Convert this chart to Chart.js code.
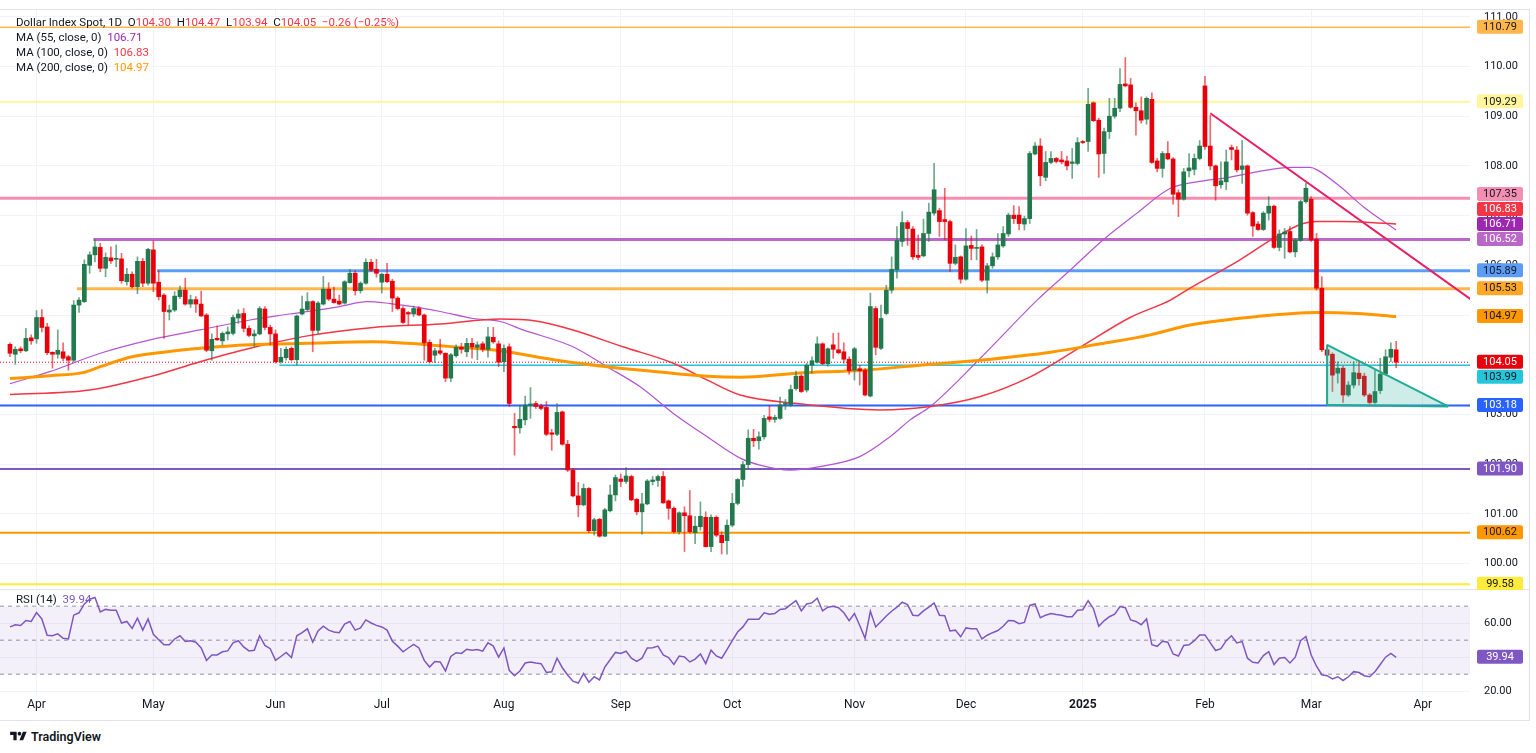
<!DOCTYPE html>
<html>
<head>
<meta charset="utf-8">
<script src="https://cdn.jsdelivr.net/npm/chart.js@4.4.1/dist/chart.umd.min.js"></script>
<style>
  html, body { margin: 0; padding: 0; background: #fff; width: 1536px; height: 753px; overflow: hidden;
    font-family: Roboto, "Liberation Sans", sans-serif; color: #131722; }
  #mainBox { position: absolute; left: 0; top: 0; width: 1536px; height: 590px; }
  #rsiBox { position: absolute; left: 0; top: 590px; width: 1536px; height: 128px; }
  .legend { position: absolute; left: 16px; top: 15px; font-size: 11.5px; line-height: 15px; white-space: pre; }
  .rsiLegend { position: absolute; left: 16px; top: 592px; font-size: 11.5px; line-height: 15px; white-space: pre; }
  .hline { position: absolute; left: 0; width: 1530px; height: 1px; background: #e0e3eb; }
  .vline { position: absolute; top: 10px; width: 1px; height: 710px; background: #e0e3eb; }
  .logo { position: absolute; left: 10px; top: 729px; display: flex; align-items: center; gap: 4px;
    font-size: 12.5px; font-weight: 600; }
</style>
</head>
<body>
<div class="hline" style="top:9px"></div>
<div class="hline" style="top:589px"></div>
<div class="hline" style="top:720px"></div>
<div class="vline" style="left:1529px"></div>
<div id="mainBox"><canvas id="mainChart"></canvas></div>
<div id="rsiBox"><canvas id="rsiChart"></canvas></div>
<div class="legend">Dollar Index Spot, 1D  O<span style="color:#f23645">104.30</span>  H<span style="color:#f23645">104.47</span>  L<span style="color:#f23645">103.94</span>  C<span style="color:#f23645">104.05</span>  <span style="color:#f23645">−0.26 (−0.25%)</span>
MA (55, close, 0)  <span style="color:#9c27b0">106.71</span>
MA (100, close, 0)  <span style="color:#f23645">106.83</span>
MA (200, close, 0)  <span style="color:#ff9800">104.97</span></div>
<div class="rsiLegend">RSI (14)  <span style="color:#7e57c2">39.94</span></div>
<div class="logo">
  <svg width="17" height="13" viewBox="0 0 36 28"><path d="M14 22H7V11H0V4h14v18zM28 22h-8l7.5-18h8L28 22z" fill="#131722"/><circle cx="20" cy="8" r="4" fill="#131722"/></svg>
  <span>TradingView</span>
</div>
<script>
// daily bars, 25 Mar 2024 .. 25 Mar 2025 (bar index 0..261)
const opens = [
104.41,104.21,104.32,104.28,104.54,104.52,104.95,104.76,104.25,104.21,
104.26,104.16,104.09,105.20,105.27,106.00,106.21,106.36,105.94,106.15,
106.12,106.13,105.67,105.82,105.57,106.08,105.64,106.31,105.66,105.40,
105.06,105.10,105.37,105.50,105.22,105.31,105.22,105.00,104.28,104.53,
104.48,104.62,104.63,104.94,105.03,104.73,104.58,104.62,105.12,104.75,
104.62,104.06,104.14,104.33,104.10,105.02,105.11,105.27,104.69,105.22,
105.52,105.32,105.28,105.24,105.65,105.84,105.49,105.64,106.06,105.92,
105.66,105.82,105.68,105.34,105.13,105.05,105.02,105.13,105.00,104.45,
104.19,104.28,104.23,103.73,104.18,104.35,104.26,104.43,104.35,104.42,
104.31,104.55,104.42,104.06,104.36,102.76,102.73,102.89,103.19,103.22,
103.17,103.14,102.63,102.60,103.05,102.40,101.88,101.36,101.18,101.51,
100.66,100.89,100.55,101.06,101.38,101.70,101.65,101.75,101.29,101.04,
101.20,101.65,101.67,101.75,101.26,101.11,100.64,101.02,100.96,100.62,
100.74,100.93,100.34,100.93,100.57,100.46,100.77,101.21,101.69,101.99,
102.52,102.47,102.55,102.95,102.90,102.92,103.20,103.19,103.52,103.77,
103.49,103.99,104.05,104.42,104.02,104.40,104.30,104.26,104.11,103.89,
103.92,103.89,103.37,105.13,104.33,105.03,105.50,105.91,106.48,106.86,
106.73,106.20,106.19,106.64,107.05,107.10,106.92,106.88,106.04,106.17,
105.72,106.40,106.34,106.37,105.70,105.99,106.17,106.39,106.63,107.01,
107.01,106.83,106.94,108.24,108.40,107.77,108.07,108.15,108.12,108.10,
108.05,108.05,108.49,108.49,109.27,108.92,108.25,108.69,109.00,109.16,
109.65,109.63,109.18,109.11,108.94,109.34,108.10,107.95,108.25,108.14,
107.46,107.33,107.90,107.93,108.15,109.61,108.40,108.00,107.62,107.68,
108.37,108.32,107.93,108.00,107.06,106.83,106.72,107.05,107.19,106.36,
106.63,106.68,106.27,106.50,107.28,107.33,106.52,105.54,104.30,104.21,
103.83,103.93,103.39,103.59,103.83,103.77,103.39,103.24,103.48,103.81,
104.15,104.30];
const highs = [
104.44,104.36,104.36,104.73,104.60,105.09,105.11,104.83,104.26,104.70,
104.44,104.19,105.29,105.35,106.11,106.27,106.52,106.44,106.25,106.37,
106.41,106.24,105.94,105.87,106.17,106.14,106.34,106.49,105.89,105.43,
105.20,105.47,105.58,105.74,105.40,105.37,105.48,105.03,104.62,104.78,
104.66,104.76,105.00,105.11,105.13,104.78,104.70,105.17,105.17,104.80,
104.70,104.33,104.36,104.36,105.00,105.38,105.45,105.29,105.27,105.78,
105.65,105.56,105.40,105.69,105.92,105.89,105.67,106.13,106.12,106.12,
105.84,106.04,105.72,105.37,105.17,105.07,105.18,105.17,105.02,104.50,
104.33,104.51,104.24,104.23,104.40,104.43,104.53,104.53,104.46,104.46,
104.75,104.75,104.48,104.40,104.42,103.02,103.19,103.37,103.54,103.26,
103.21,103.26,102.70,103.22,103.07,102.48,101.91,101.63,101.60,101.53,
100.91,100.91,101.11,101.58,101.78,101.80,101.93,101.78,101.31,101.41,
101.69,101.75,101.78,101.85,101.28,101.14,101.04,101.14,101.47,100.95,
101.24,101.04,100.98,100.96,100.64,100.88,101.41,101.71,102.05,102.69,
102.70,102.65,102.98,103.17,102.98,103.35,103.30,103.59,103.87,103.80,
104.03,104.16,104.56,104.44,104.34,104.63,104.64,104.44,104.16,104.35,
103.99,103.92,105.44,105.17,105.20,105.60,106.17,106.78,107.08,106.90,
106.78,106.61,106.93,107.25,108.05,107.15,107.55,106.91,106.41,106.19,
106.74,106.59,106.72,106.41,106.04,106.25,106.64,106.78,107.05,107.20,
107.18,106.99,108.29,108.47,108.55,108.29,108.29,108.17,108.29,108.20,
108.35,108.57,108.51,109.56,109.29,108.96,108.76,109.36,109.36,109.96,
110.18,109.76,109.27,109.39,109.39,109.47,108.15,108.29,108.49,108.17,
107.52,107.95,108.25,108.24,108.51,109.80,109.02,108.02,108.08,108.32,
108.42,108.39,108.51,108.02,107.08,106.88,107.08,107.38,107.21,106.71,
106.74,106.78,106.54,107.31,107.65,107.38,106.64,105.77,104.40,104.24,
104.06,103.97,103.66,104.06,104.09,103.83,103.42,103.89,104.13,104.30,
104.44,104.47];
const lows = [
104.16,104.01,104.24,104.26,104.41,104.43,104.66,104.20,103.93,104.13,
104.08,103.89,104.06,105.05,105.25,105.84,106.07,105.87,105.77,106.04,
105.97,105.64,105.60,105.54,105.43,105.57,105.60,105.47,105.30,104.53,
104.90,105.07,105.33,105.20,105.15,105.05,104.97,104.26,104.09,104.49,
104.40,104.50,104.60,104.83,104.66,104.56,104.36,104.60,104.70,104.40,
104.03,104.03,104.09,104.08,103.99,105.00,105.09,104.26,104.63,105.20,
105.29,105.24,105.20,105.22,105.64,105.40,105.44,105.62,105.87,105.76,
105.44,105.65,105.07,105.10,104.83,104.80,104.97,104.98,104.09,104.03,
104.04,104.20,103.66,103.66,104.15,104.23,104.16,104.13,104.10,104.26,
104.15,104.43,103.96,103.86,103.16,102.18,102.62,102.79,102.92,103.12,
103.09,102.57,102.28,102.57,102.38,101.85,101.34,100.94,101.16,100.62,
100.57,100.53,100.54,101.04,101.26,101.55,101.61,101.26,100.98,100.59,
101.18,101.58,101.55,101.21,100.89,100.61,100.59,100.24,100.61,100.40,
100.67,100.33,100.24,100.54,100.19,100.19,100.74,101.18,101.55,101.90,
102.35,102.30,102.50,102.85,102.84,102.90,103.10,103.16,103.49,103.44,
103.45,103.83,104.03,104.00,103.97,104.13,104.22,104.03,103.81,103.69,
103.59,103.37,103.35,104.20,104.30,105.00,105.44,105.74,106.38,106.40,
106.12,106.11,106.17,106.48,107.01,106.58,106.51,105.87,106.01,105.64,
105.70,106.11,106.11,105.67,105.44,105.94,106.12,106.36,106.58,106.84,
106.71,106.71,106.84,108.22,107.60,107.70,108.04,108.06,108.04,107.92,
107.75,108.02,108.45,108.29,108.89,107.77,107.85,108.55,108.96,109.09,
109.59,109.16,108.62,108.86,108.84,108.05,107.88,107.77,108.12,107.23,
106.98,107.31,107.78,107.82,108.12,108.33,107.92,107.31,107.55,107.52,
108.12,107.88,107.65,107.01,106.58,106.70,106.70,106.91,106.34,106.29,
106.14,106.25,106.17,106.48,107.25,106.48,105.50,104.26,103.22,103.46,
103.63,103.24,103.36,103.53,103.59,103.36,103.21,103.22,103.42,103.79,
104.06,103.94];
const closes = [
104.23,104.31,104.28,104.53,104.48,104.95,104.75,104.24,104.21,104.29,
104.13,104.09,105.20,105.30,106.02,106.21,106.37,105.94,106.16,106.09,
106.13,105.69,105.82,105.57,106.08,105.64,106.32,105.64,105.37,105.07,
105.10,105.38,105.50,105.22,105.31,105.22,104.98,104.29,104.51,104.50,
104.63,104.66,104.95,105.02,104.73,104.59,104.62,105.13,104.75,104.62,
104.06,104.15,104.31,104.10,104.98,105.12,105.27,104.69,105.24,105.52,
105.32,105.25,105.22,105.67,105.84,105.49,105.64,106.06,105.90,105.84,
105.82,105.67,105.34,105.13,104.85,105.02,105.13,105.00,104.44,104.06,
104.28,104.23,103.73,104.20,104.35,104.31,104.43,104.36,104.40,104.31,
104.56,104.46,104.05,104.33,103.22,102.73,102.90,103.19,103.21,103.16,
103.12,102.60,102.60,103.04,102.40,101.88,101.36,101.18,101.51,100.66,
100.88,100.55,101.08,101.38,101.73,101.65,101.76,101.28,101.04,101.20,
101.66,101.68,101.75,101.22,101.11,100.64,101.02,100.96,100.64,100.75,
100.95,100.34,100.93,100.57,100.42,100.77,101.21,101.69,101.99,102.52,
102.47,102.55,102.92,102.90,102.94,103.19,103.22,103.50,103.77,103.46,
103.99,104.08,104.42,104.02,104.32,104.31,104.24,104.11,103.88,104.32,
103.88,103.39,105.17,104.35,104.93,105.50,105.92,106.50,106.86,106.74,
106.17,106.16,106.64,107.07,107.52,106.88,106.88,106.04,106.16,105.72,
106.39,106.34,106.36,105.70,105.99,106.17,106.41,106.64,107.01,106.94,
106.84,106.94,108.25,108.40,107.80,108.07,108.15,108.09,108.08,108.00,
108.08,108.47,108.47,109.24,108.91,108.24,108.69,109.00,109.16,109.64,
109.61,109.18,109.11,108.92,109.36,108.07,107.95,108.25,108.14,107.43,
107.33,107.88,107.96,108.15,108.40,108.39,108.00,107.60,107.70,108.08,
108.33,107.92,108.00,107.05,106.79,106.72,107.05,107.19,106.36,106.63,
106.67,106.27,106.51,107.28,107.55,106.51,105.54,104.30,104.19,103.79,
103.93,103.39,103.59,103.84,103.72,103.39,103.24,103.46,103.81,104.16,
104.31,104.05];

// moving averages: [bar index, value]
const ma55 = [[0,103.62],[7.5,103.86],[17,104.23],[26.4,104.50],[35.8,104.70],[45.2,104.90],[52.7,105.02],
  [62.1,105.17],[67.2,105.27],[71.6,105.23],[75.9,105.17],[81,105.07],[87.2,104.93],[92.3,104.87],[96.6,104.70],
  [106,104.36],[112.4,103.96],[118.6,103.56],[124.9,103.02],[131.3,102.55],[137.5,102.12],[141.2,101.98],
  [146.9,101.88],[152.5,101.95],[160,102.15],[165.7,102.55],[169.5,102.89],[173.3,103.16],[182.7,104.13],
  [193.4,105.30],[199.6,105.90],[205.8,106.51],[212.2,107.05],[218.5,107.55],[224.7,107.70],[228.4,107.75],
  [234.8,107.88],[241.1,107.97],[244.8,107.97],[246.1,107.92],[250.5,107.58],[254.8,107.18],[261,106.71]];
const ma100 = [[0,103.40],[15,103.49],[26.4,103.76],[35.8,104.06],[45.2,104.33],[56,104.58],[68.4,104.75],
  [81,104.82],[92.3,104.92],[99,104.88],[106,104.70],[115.4,104.36],[124.9,104.03],[131.3,103.69],[137.5,103.39],
  [148.2,103.22],[163.8,103.09],[173.3,103.16],[182.7,103.36],[192,103.75],[201.5,104.35],[210.9,104.95],
  [218.5,105.30],[222.2,105.54],[231.6,106.11],[237.9,106.54],[243.5,106.84],[246.1,106.88],[250.5,106.88],[261,106.83]];
const ma200 = [[0,103.72],[7.5,103.78],[13.7,103.84],[17,103.96],[23,104.16],[29.6,104.26],[35.8,104.33],
  [45.2,104.40],[56,104.43],[68.4,104.46],[74.8,104.43],[81,104.38],[87.2,104.33],[92.3,104.28],[103,104.09],
  [112.4,103.96],[121.8,103.86],[131.3,103.77],[137.5,103.75],[148.2,103.83],[160.6,103.89],[173.3,104.01],
  [182.7,104.09],[195.9,104.25],[205.3,104.42],[214.7,104.60],[222.2,104.80],[234.8,104.97],[246,105.05],
  [253.7,105.03],[261,104.97]];

const rsi14 = [
57.8,59.1,58.6,61.6,61.0,66.2,62.5,52.9,52.6,53.7,
51.1,50.7,64.7,66.1,71.3,74.1,75.1,66.6,68.1,67.6,
67.6,60.1,61.0,56.9,62.9,55.9,62.5,53.5,50.3,47.3,
47.3,50.7,52.6,49.2,49.7,48.8,45.4,38.1,41.3,41.3,
43.2,43.7,48.4,49.7,46.0,43.7,44.1,52.6,46.9,45.0,
38.1,40.4,42.8,39.8,52.6,54.4,56.7,48.8,55.4,58.2,
55.9,54.8,54.4,59.5,61.0,55.9,57.2,61.9,60.1,58.7,
57.8,55.9,49.4,46.5,43.2,45.4,47.5,45.4,38.1,34.2,
37.5,37.2,31.9,40.4,42.6,42.2,44.7,44.1,44.5,43.5,
48.4,46.5,40.0,45.4,32.3,29.1,31.9,36.6,37.2,36.6,
36.2,31.0,31.4,39.4,33.8,29.5,25.9,24.8,30.4,25.3,
28.5,26.7,34.2,38.5,42.8,42.2,43.5,39.4,37.5,39.4,
45.4,45.6,46.5,41.3,39.8,35.7,40.7,40.2,37.2,38.9,
41.9,36.2,44.1,40.7,39.4,44.5,49.7,54.8,57.8,62.3,
62.3,62.3,66.1,65.3,65.7,68.1,68.5,70.9,73.2,67.2,
71.3,71.9,74.7,67.2,69.4,70.0,69.1,66.1,61.4,65.7,
58.6,51.1,67.0,57.8,61.0,64.2,67.0,69.4,72.3,70.9,
64.7,64.4,67.2,69.4,71.9,64.7,64.4,55.4,55.9,52.0,
57.2,56.7,56.7,50.7,52.9,54.4,55.7,58.2,61.6,61.4,
59.7,60.4,70.4,71.3,63.2,64.7,65.7,65.1,64.7,63.8,
63.8,67.6,67.9,73.2,68.5,58.2,61.4,63.8,65.3,69.8,
69.1,61.9,61.0,59.1,62.5,47.3,46.4,49.4,48.8,41.9,
40.7,46.9,47.3,49.7,53.1,53.1,48.4,43.9,45.0,49.7,
52.6,48.4,49.2,39.4,37.0,36.6,40.9,43.2,35.7,39.4,
39.8,36.6,40.0,49.7,52.2,41.3,34.7,29.7,29.1,27.2,
28.5,26.3,28.5,31.5,31.0,29.1,28.5,31.4,35.7,40.0,
42.2,39.94];

const monthIdx = [5, 27, 50, 70, 93, 115, 136, 159, 180, 202, 225, 245, 266];
const monthLabels = ['Apr','May','Jun','Jul','Aug','Sep','Oct','Nov','Dec','2025','Feb','Mar','Apr'];
const priceTicks = [100,101,102,103,104,105,106,107,108,109,110,111];
const rsiTicks = [20, 40, 60];

// horizontal levels drawn on the chart, and the bar where each one starts (null = whole width)
const levels    = [110.79, 109.29, 107.35, 106.52, 105.89, 105.53, 103.99, 103.18, 101.90, 100.62, 99.58];
const levelFrom = [null,   null,   null,   15.7,   27.7,   12.6,   50.7,   null,   null,   null,   null];
const lastPrice = 104.05;
const lastRsi = 39.94;
const trendLine = [[226, 109.06], [275, 105.32]];
const triangleTop = [[248, 104.40], [270.8, 103.16]];
const triangleBase = [[248, 103.19], [270.8, 103.16]];
</script>
<script>
Chart.defaults.font.family = 'Roboto, "Liberation Sans", sans-serif';
Chart.defaults.font.size = 11;
Chart.defaults.color = '#131722';

const X_MIN = -1.88, X_MAX = 274.9;
const UP = '#22794d', DOWN = '#e8000b';
const GRID = '#f0f3fa';
const TAG_H = 15;

const levelStyles = [
  { color: '#ffb74d', width: 1.5, bg: '#ffb74d', fg: '#131722' },
  { color: '#fff59d', width: 2,   bg: '#fff59d', fg: '#131722' },
  { color: '#f48fb1', width: 3,   bg: '#f48fb1', fg: '#131722' },
  { color: '#ba68c8', width: 3,   bg: '#ba68c8', fg: '#ffffff' },
  { color: '#5b9cf6', width: 3,   bg: '#5b9cf6', fg: '#131722' },
  { color: '#ffb74d', width: 3,   bg: '#ffa726', fg: '#131722' },
  { color: '#26c6da', width: 1.5, bg: '#26c6da', fg: '#131722' },
  { color: '#2962ff', width: 2,   bg: '#2962ff', fg: '#ffffff' },
  { color: '#7e57c2', width: 2,   bg: '#7e57c2', fg: '#ffffff' },
  { color: '#ff9800', width: 2,   bg: '#ff9800', fg: '#131722' },
  { color: '#ffeb3b', width: 2,   bg: '#ffeb3b', fg: '#131722' }
];

const pts = arr => arr.map(([x, y]) => ({ x, y }));
const isUp = closes.map((c, i) => c >= opens[i]);

// price tags on the right axis, pushed apart like TradingView does
const tagPlugin = {
  id: 'tags',
  afterDraw(chart, args, opts) {
    const sc = chart.scales.y, ctx = chart.ctx, area = chart.chartArea;
    const items = opts.tags.map(t => ({ ...t, y: sc.getPixelForValue(t.v) }));
    items.sort((a, b) => b.y - a.y);
    let prev = null;
    for (const it of items) {
      let y = it.y;
      if (prev) {
        if (it.fixed) { if (prev.py - y < TAG_H) prev.py = y + TAG_H; }
        else y = Math.min(y, prev.py - TAG_H);
      }
      it.py = y;
      prev = it;
    }
    ctx.save();
    ctx.font = '11px Roboto, "Liberation Sans", sans-serif';
    ctx.textAlign = 'center';
    ctx.textBaseline = 'middle';
    for (const it of items) {
      ctx.fillStyle = it.bg;
      ctx.beginPath();
      ctx.roundRect(area.right + 7, it.py - TAG_H / 2, 46, TAG_H - 1, 2);
      ctx.fill();
      ctx.fillStyle = it.fg;
      ctx.fillText(it.v.toFixed(2), area.right + 30, it.py);
    }
    ctx.restore();
  }
};

const xScale = (showLabels) => ({
  type: 'linear', min: X_MIN, max: X_MAX, offset: false,
  afterBuildTicks: s => { s.ticks = monthIdx.map(v => ({ value: v })); },
  afterFit: s => { s.paddingLeft = 0; s.paddingRight = 0; },
  ticks: {
    display: showLabels, autoSkip: false, maxRotation: 0, padding: 3,
    font: c => ({ size: 12, weight: (c.tick && c.tick.value === 202) ? 'bold' : 'normal' }),
    callback: v => { const k = monthIdx.indexOf(v); return k >= 0 ? monthLabels[k] : ''; }
  },
  grid: { color: GRID, drawTicks: false, offset: false },
  border: { display: false }
});

// tick padding would otherwise be added above and below the plot area
const yScale = (min, max, ticks) => ({
  position: 'right', min, max,
  afterBuildTicks: s => { s.ticks = ticks.map(v => ({ value: v })); },
  afterFit: s => { s.width = 66; s.paddingTop = 0; s.paddingBottom = 0; },
  ticks: { padding: 14, callback: v => v.toFixed(2), color: '#131722' },
  grid: { color: GRID, drawTicks: false },
  border: { display: false }
});

// ---- main price pane ----
const datasets = [];
levels.forEach((v, k) => {
  const s = levelStyles[k];
  datasets.push({ type: 'line', data: [{ x: levelFrom[k] ?? X_MIN, y: v }, { x: X_MAX, y: v }],
    borderColor: s.color, borderWidth: s.width, pointRadius: 0, order: 8 });
});
datasets.push({ type: 'line', data: [{ x: X_MIN, y: lastPrice }, { x: X_MAX, y: lastPrice }],
  borderColor: DOWN, borderWidth: 1, borderDash: [1, 2], pointRadius: 0, order: 7 });
datasets.push({ type: 'line', data: pts(ma200), borderColor: '#ff9800', borderWidth: 3,
  pointRadius: 0, cubicInterpolationMode: 'monotone', order: 6 });
datasets.push({ type: 'line', data: pts(ma100), borderColor: '#f23645', borderWidth: 1.5,
  pointRadius: 0, cubicInterpolationMode: 'monotone', order: 6 });
datasets.push({ type: 'line', data: pts(ma55), borderColor: '#b355d1', borderWidth: 1.2,
  pointRadius: 0, cubicInterpolationMode: 'monotone', order: 6 });
// wicks and bodies
datasets.push({ type: 'bar', data: highs.map((h, i) => ({ x: i, y: [lows[i], h] })),
  backgroundColor: isUp.map(u => u ? 'rgba(34,121,77,0.65)' : 'rgba(232,0,11,0.6)'),
  barThickness: 1, grouped: false, order: 5 });
datasets.push({ type: 'bar', data: opens.map((o, i) => ({ x: i, y: [o, closes[i]] })),
  backgroundColor: isUp.map(u => u ? UP : DOWN),
  barThickness: 4, minBarLength: 1, grouped: false, order: 4 });
// drawings on top
datasets.push({ type: 'line', data: pts(trendLine), borderColor: '#e91e63', borderWidth: 2, pointRadius: 0, order: 2 });
datasets.push({ type: 'line', data: pts(triangleTop), borderColor: '#22ab94', borderWidth: 2, pointRadius: 0,
  fill: '+1', backgroundColor: 'rgba(34,171,148,0.22)', order: 1 });
datasets.push({ type: 'line', data: pts(triangleBase), borderColor: '#22ab94', borderWidth: 2, pointRadius: 0, order: 1 });
datasets.push({ type: 'line', data: [{ x: triangleTop[0][0], y: triangleBase[0][1] }, { x: triangleTop[0][0], y: triangleTop[0][1] }],
  borderColor: '#22ab94', borderWidth: 2, pointRadius: 0, order: 1 });

const mainTags = levels.map((v, k) => ({ v, bg: levelStyles[k].bg, fg: levelStyles[k].fg }));
mainTags.push({ v: lastPrice, bg: DOWN, fg: '#fff', fixed: true });
mainTags.push({ v: ma200[ma200.length - 1][1], bg: '#ff9800', fg: '#131722' });
mainTags.push({ v: ma100[ma100.length - 1][1], bg: '#f23645', fg: '#fff' });
mainTags.push({ v: ma55[ma55.length - 1][1], bg: '#9c27b0', fg: '#fff' });

new Chart(document.getElementById('mainChart'), {
  type: 'bar',
  data: { datasets },
  options: {
    responsive: true, maintainAspectRatio: false, animation: false,
    layout: { padding: { top: 10, bottom: 2, left: 0, right: 0 } },
    scales: { x: xScale(false), y: yScale(99.507, 111.137, priceTicks) },
    plugins: { legend: { display: false }, tooltip: { enabled: false }, tags: { tags: mainTags } }
  },
  plugins: [tagPlugin]
});

// ---- RSI pane ----
const flat = (v, extra) => Object.assign({ type: 'line', data: [{ x: X_MIN, y: v }, { x: X_MAX, y: v }],
  borderColor: '#9598a1', borderWidth: 1, borderDash: [4, 4], pointRadius: 0, order: 3 }, extra || {});

new Chart(document.getElementById('rsiChart'), {
  type: 'line',
  data: {
    datasets: [
      { data: rsi14.map((v, i) => ({ x: i, y: v })), borderColor: '#7e57c2', borderWidth: 1.5, pointRadius: 0, order: 1 },
      flat(70, { fill: { target: { value: 30 }, above: 'rgba(126,87,194,0.09)', below: 'rgba(126,87,194,0.09)' } }),
      flat(50),
      flat(30)
    ]
  },
  options: {
    responsive: true, maintainAspectRatio: false, animation: false,
    layout: { padding: { top: 0, bottom: 3, left: 0, right: 0 } },
    scales: { x: xScale(true), y: yScale(18, 79.5, rsiTicks) },
    plugins: { legend: { display: false }, tooltip: { enabled: false },
      tags: { tags: [{ v: lastRsi, bg: '#7e57c2', fg: '#fff' }] } }
  },
  plugins: [tagPlugin]
});
</script>
</body>
</html>
